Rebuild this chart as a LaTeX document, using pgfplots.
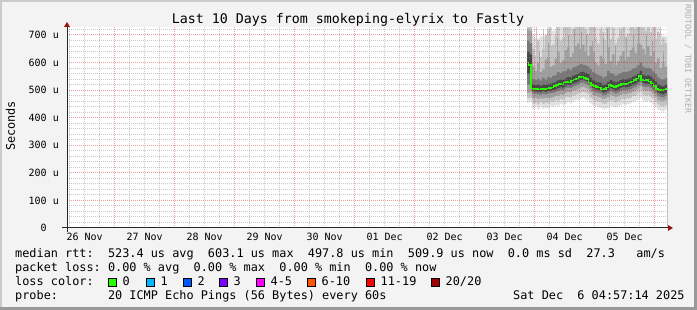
\documentclass[border=0pt]{standalone}
\usepackage{fontspec}
\setmainfont{DejaVu Sans Mono}
\usepackage{pgfplots}
\pgfplotsset{compat=1.18}
\usepackage{pgfplotstable}
\definecolor{bgc}{HTML}{F3F3F3}
\definecolor{shadea}{HTML}{CBCBCB}
\definecolor{shadeb}{HTML}{999999}
\definecolor{arrowc}{HTML}{9A1414}
\definecolor{Lone}{HTML}{E2E2E2}
\definecolor{Ltwo}{HTML}{C4C4C4}
\definecolor{Lthree}{HTML}{A0A0A0}
\definecolor{Lfour}{HTML}{787878}
\definecolor{Lfive}{HTML}{484848}
\definecolor{medgreen}{HTML}{26FF00}
\definecolor{lcone}{HTML}{00B8FF}
\definecolor{lctwo}{HTML}{0059FF}
\definecolor{lcthree}{HTML}{7E00FF}
\definecolor{lcfour}{HTML}{FF00FF}
\definecolor{lcfive}{HTML}{FF5500}
\definecolor{lcsix}{HTML}{FF0000}
\definecolor{lcseven}{HTML}{A00000}
\definecolor{wmark}{HTML}{AEAEAE}
\pgfplotstableread{
h mn p10 p25 p40 p45 med p55 p60 p75 p90 mx
189 455 470 490 520 560 600 640 680 720 750 780
190 458 472 492 522 560 592 630 670 715 748 780
191 432 452 470 486 496 506 520 540 585 650 700
192 441 455 472 487 495 504 518 536 570 625 690
193 430 448 468 485 494 505 521 542 600 680 688
194 440 457 470 484 493 503 516 535 565 620 695
195 433 450 469 486 496 505 520 545 575 650 692
196 437 455 471 485 494 504 518 538 610 700 688
197 433 452 470 487 496 506 522 548 620 720 760
198 444 460 473 489 498 508 524 545 585 660 760
199 438 457 474 490 500 510 526 552 590 665 715
200 445 464 478 494 503 514 530 555 615 700 720
201 442 461 480 497 507 518 535 565 640 740 760
202 450 468 485 501 511 522 538 562 600 680 760
203 446 466 483 499 509 520 537 568 610 690 760
204 450 474 490 506 516 527 543 570 645 745 760
205 457 476 493 509 519 530 547 578 655 750 760
206 452 471 491 507 517 528 545 572 620 700 760
207 458 480 498 513 524 535 552 582 635 720 760
208 464 483 500 516 527 538 555 585 660 760 760
209 463 488 505 520 531 542 560 590 670 760 760
210 470 490 510 525 536 547 565 595 650 730 760
211 474 494 512 527 538 549 566 592 665 755 760
212 466 490 508 523 534 545 562 590 640 720 760
213 462 486 503 518 530 541 558 585 625 705 760
214 452 472 492 506 518 528 545 575 660 750 760
215 445 466 482 496 507 518 535 565 640 735 760
216 440 459 478 492 503 514 530 560 600 690 760
217 438 458 476 490 501 512 528 555 590 670 760
218 436 456 474 488 499 510 526 552 625 720 760
219 430 451 467 480 491 502 518 545 615 710 760
220 432 450 470 483 494 505 522 550 595 680 760
221 436 457 474 488 498 510 530 570 655 750 760
222 444 463 482 496 507 519 536 562 605 685 760
223 440 461 478 492 503 515 532 558 630 725 760
224 437 455 474 488 499 511 528 552 590 670 760
225 441 460 477 491 502 514 531 556 605 690 760
226 444 465 482 496 507 519 536 562 625 720 760
227 448 468 486 500 511 523 540 566 640 740 760
228 446 467 485 499 510 522 539 565 610 695 760
229 449 470 487 501 512 524 541 568 620 705 760
230 452 471 490 504 515 527 544 572 645 745 760
231 457 478 495 509 520 532 549 578 655 755 760
232 460 480 499 513 524 536 553 582 635 720 760
233 466 488 505 519 530 542 560 590 670 760 760
234 474 495 514 528 540 552 570 600 665 755 760
235 462 483 500 514 525 537 555 585 650 735 760
236 458 478 497 511 522 535 552 580 630 715 760
237 460 482 499 513 524 537 554 582 660 750 760
238 455 475 494 508 519 532 549 576 625 710 760
239 447 469 486 500 511 524 541 568 640 735 760
240 438 457 476 490 502 515 531 558 600 685 760
241 428 448 465 479 491 504 520 546 615 710 740
242 425 443 462 476 487 500 516 540 580 665 700
243 422 442 460 474 485 498 514 538 600 690 695
244 428 446 465 479 490 503 519 543 585 670 695
245 430 449 467 481 492 505 521 545 598 685 700
}\smoke
\pgfplotstableread{
h top
192.6 760
195.4 720
198.2 760
200.8 740
203.5 760
204.7 760
206.3 760
208.9 760
211.6 760
213.9 760
216.4 760
218.7 760
220.6 760
223.3 760
225.8 760
227.4 760
230.2 760
232.7 760
235.5 760
237.8 760
240.3 760
242.5 730
}\streaklight
\pgfplotstableread{
h top
193.8 640
197.4 670
201.3 690
205.6 700
207.8 720
210.6 710
212.8 700
215.2 680
219.6 690
221.2 720
224.5 660
228.6 690
231.4 700
233.6 740
236.6 700
239.2 680
243.4 640
}\streakmid
\begin{document}
\frenchspacing
\begin{tikzpicture}[x=1pt,y=1pt]
\path[use as bounding box] (0,0) rectangle (697,310);
\fill[bgc] (0,0) rectangle (697,310);
\fill[shadea] (0,0) rectangle (2,310);
\fill[shadea] (0,308) rectangle (697,310);
\fill[shadeb] (694,0) rectangle (697,310);
\fill[shadeb] (0,0) rectangle (697,3);
\begin{axis}[
  at={(67pt,82pt)}, anchor=south west, scale only axis,
  width=600pt, height=201pt,
  xmin=4.95, xmax=244.95, ymin=0, ymax=729,
  axis background/.style={fill=white},
  axis line style={draw=none},
  axis on top,
  tick style={draw=none},
  xtick={12,36,...,228},
  xticklabels={26 Nov,27 Nov,28 Nov,29 Nov,30 Nov,01 Dec,02 Dec,03 Dec,04 Dec,05 Dec},
  minor xtick={6,12,18,30,36,42,54,60,66,78,84,90,102,108,114,126,132,138,150,156,162,174,180,186,198,204,210,222,228,234},
  extra x ticks={24,48,...,240},
  extra x tick labels={},
  extra x tick style={grid=major},
  ytick={0,100,...,700},
  yticklabels={{0\hphantom{\ u}},{100\ u},{200\ u},{300\ u},{400\ u},{500\ u},{600\ u},{700\ u}},
  minor ytick={20,40,60,80,120,140,160,180,220,240,260,280,320,340,360,380,420,440,460,480,520,540,560,580,620,640,660,680,720},
  xmajorgrids=false, xminorgrids=true, ymajorgrids=true, yminorgrids=true,
  minor grid style={draw=gray, opacity=0.42, line width=1pt, dash pattern=on 1pt off 1pt},
  major grid style={draw=red!85!black, opacity=0.38, line width=1pt, dash pattern=on 1pt off 1pt},
  xticklabel style={anchor=base, yshift=-13pt, inner sep=0pt, font=\fontsize{10}{12}\selectfont},
  yticklabel style={anchor=east, xshift=-8pt, inner sep=0pt, font=\fontsize{10}{12}\selectfont},
]
\addplot[fill=Lone, draw=none, const plot] table[x=h,y=mx]{\smoke} \closedcycle;
\addplot[fill=Ltwo, draw=none, const plot] table[x=h,y=p90]{\smoke} \closedcycle;
\addplot[ycomb, Ltwo, line width=1pt] table[x=h,y=top]{\streaklight};
\addplot[fill=Lthree, draw=none, const plot] table[x=h,y=p75]{\smoke} \closedcycle;
\addplot[ycomb, Lthree, line width=1pt] table[x=h,y=top]{\streakmid};
\addplot[fill=Lfour, draw=none, const plot] table[x=h,y=p60]{\smoke} \closedcycle;
\addplot[fill=Lfive, draw=none, const plot] table[x=h,y=p55]{\smoke} \closedcycle;
\addplot[fill=Lfour, draw=none, const plot] table[x=h,y=p45]{\smoke} \closedcycle;
\addplot[fill=Lthree, draw=none, const plot] table[x=h,y=p40]{\smoke} \closedcycle;
\addplot[fill=Ltwo, draw=none, const plot] table[x=h,y=p25]{\smoke} \closedcycle;
\addplot[fill=Lone, draw=none, const plot] table[x=h,y=p10]{\smoke} \closedcycle;
\addplot[fill=white, draw=none, const plot] table[x=h,y=mn]{\smoke} \closedcycle;
\addplot[black, line width=0.8pt] table[x=h,y=med]{\smoke};
\addplot[medgreen, line width=1.6pt, const plot mark mid] table[x=h,y=med]{\smoke};
\end{axis}
\draw[black!85, line width=1pt] (62,82) -- (668,82);
\fill[arrowc] (668,85) -- (673,82) -- (668,79) -- cycle;
\draw[black!85, line width=1pt] (67,78) -- (67,283);
\fill[arrowc] (64,283) -- (67,288) -- (70,283) -- cycle;
\node[anchor=base, inner sep=0pt] at (348,286) {\fontsize{13.3}{16}\selectfont Last 10 Days from smokeping-elyrix to Fastly};
\node[rotate=90, inner sep=0pt] at (10.5,184) {\fontsize{11.86}{14}\selectfont Seconds};
\node[rotate=-90, inner sep=0pt, text=wmark] at (688,251) {\fontsize{8.2}{10}\selectfont RRDTOOL / TOBI OETIKER};
\begin{scope}[every node/.style={anchor=base west, inner sep=0pt, font=\fontsize{11.86}{14}\selectfont}]
\node at (15,52) {median~rtt:~~523.4~us~avg~~603.1~us~max~~497.8~us~min~~509.9~us~now~~0.0~ms~sd~~27.3~~~am/s};
\node at (15,38) {packet~loss:~0.00~\%~avg~~0.00~\%~max~~0.00~\%~min~~0.00~\%~now};
\node at (15,24) {loss~color:};
\foreach \bx/\col/\lab in {108/medgreen/0,146/lcone/1,183/lctwo/2,219/lcthree/3,256/lcfour/4-5,307/lcfive/6-10,366/lcsix/11-19,431/lcseven/{20/20}}{
  \filldraw[fill=\col, draw=black, line width=1pt] (\bx+0.5,23.5) rectangle (\bx+8.5,31.5);
  \node at (\bx+14.5,24) {\lab};
}
\node at (15,10) {probe:~~~~~~~20~ICMP~Echo~Pings~(56~Bytes)~every~60s};
\node at (513,10) {Sat~Dec~~6~04:57:14~2025};
\end{scope}
\end{tikzpicture}
\end{document}
